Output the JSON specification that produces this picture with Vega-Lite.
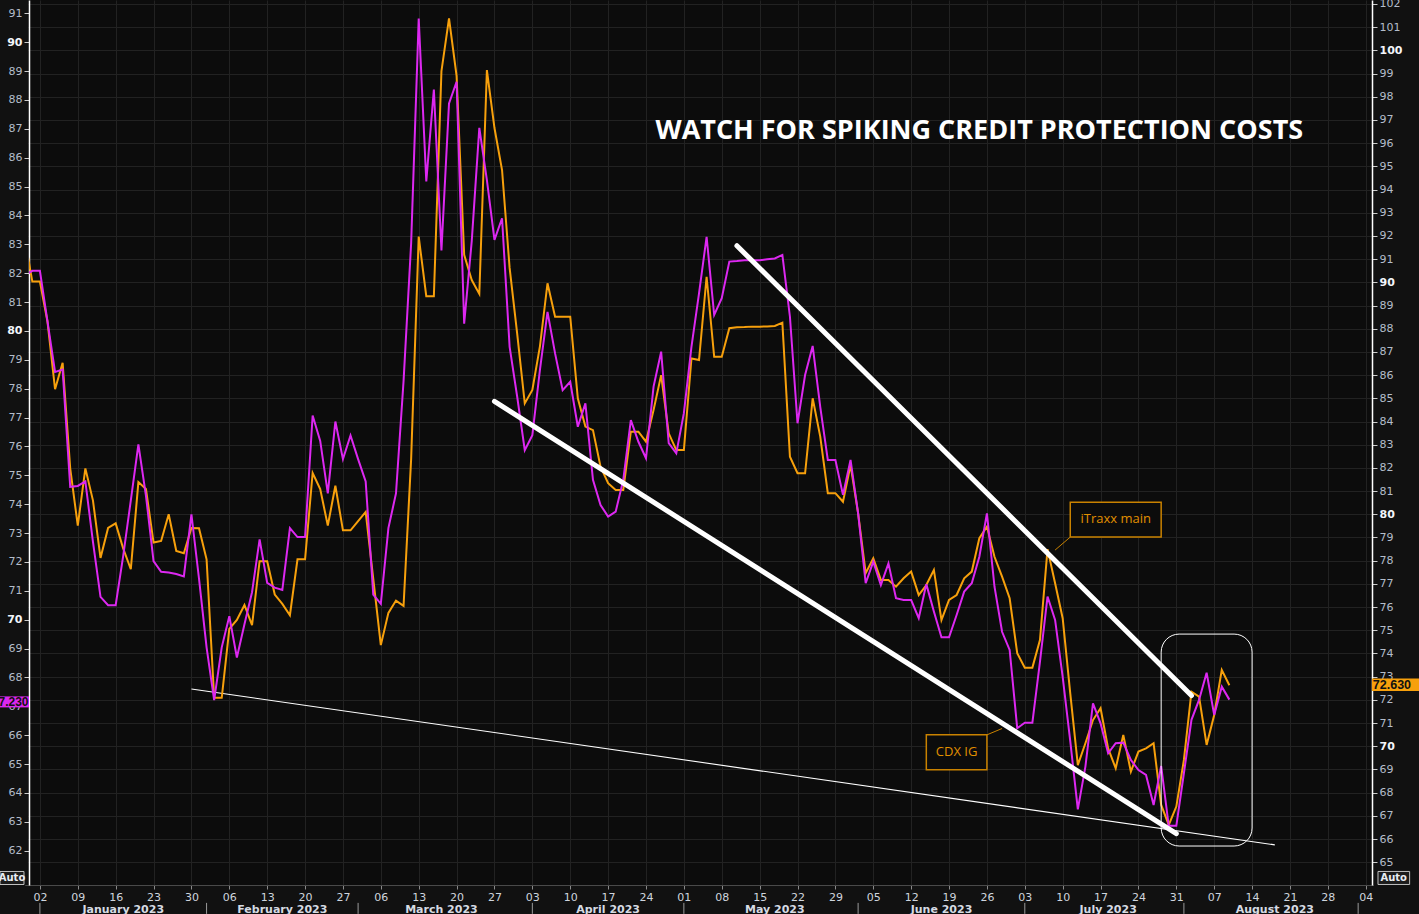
{
  "$schema": "https://vega.github.io/schema/vega-lite/v6.json",
  "width": 1343,
  "height": 885,
  "autosize": {"type": "none"},
  "padding": {"left": 29, "top": 0, "right": 47, "bottom": 29},
  "background": "#111111",
  "config": {
    "view": {"stroke": null, "fill": "#0c0c0c"},
    "axis": {"labelFont": "DejaVu Sans", "titleFont": "DejaVu Sans"}
  },
  "datasets": {
    "series": [
      {"d":"2022-12-29","cdx":81.93,"itx":91.89},
      {"d":"2022-12-30","cdx":82.08,"itx":90.03},
      {"d":"2023-01-02","cdx":82.08,"itx":90.03},
      {"d":"2023-01-03","cdx":80.33,"itx":88.31},
      {"d":"2023-01-04","cdx":78.58,"itx":85.39},
      {"d":"2023-01-05","cdx":78.66,"itx":86.53},
      {"d":"2023-01-06","cdx":74.6,"itx":81.98},
      {"d":"2023-01-09","cdx":74.63,"itx":79.51},
      {"d":"2023-01-10","cdx":74.79,"itx":81.98},
      {"d":"2023-01-11","cdx":72.7,"itx":80.6},
      {"d":"2023-01-12","cdx":70.79,"itx":78.12},
      {"d":"2023-01-13","cdx":70.5,"itx":79.41},
      {"d":"2023-01-16","cdx":70.5,"itx":79.61},
      {"d":"2023-01-17","cdx":72.22,"itx":78.52},
      {"d":"2023-01-18","cdx":74.13,"itx":77.63},
      {"d":"2023-01-19","cdx":76.07,"itx":81.39},
      {"d":"2023-01-20","cdx":74.29,"itx":81.09},
      {"d":"2023-01-23","cdx":72.03,"itx":78.78},
      {"d":"2023-01-24","cdx":71.66,"itx":78.85},
      {"d":"2023-01-25","cdx":71.63,"itx":80.0},
      {"d":"2023-01-26","cdx":71.58,"itx":78.42},
      {"d":"2023-01-27","cdx":71.5,"itx":78.32},
      {"d":"2023-01-30","cdx":73.65,"itx":79.41},
      {"d":"2023-01-31","cdx":71.42,"itx":79.4},
      {"d":"2023-02-01","cdx":69.04,"itx":78.06},
      {"d":"2023-02-02","cdx":67.21,"itx":72.09},
      {"d":"2023-02-03","cdx":69.04,"itx":72.09},
      {"d":"2023-02-06","cdx":70.12,"itx":75.06},
      {"d":"2023-02-07","cdx":68.69,"itx":75.45},
      {"d":"2023-02-08","cdx":69.84,"itx":76.09},
      {"d":"2023-02-09","cdx":70.95,"itx":75.22},
      {"d":"2023-02-10","cdx":72.78,"itx":77.98},
      {"d":"2023-02-13","cdx":71.27,"itx":77.98},
      {"d":"2023-02-14","cdx":71.11,"itx":76.54},
      {"d":"2023-02-15","cdx":71.03,"itx":76.14},
      {"d":"2023-02-16","cdx":73.17,"itx":75.65},
      {"d":"2023-02-17","cdx":72.86,"itx":78.06},
      {"d":"2023-02-20","cdx":72.86,"itx":78.06},
      {"d":"2023-02-21","cdx":77.07,"itx":81.78},
      {"d":"2023-02-22","cdx":76.19,"itx":81.09},
      {"d":"2023-02-23","cdx":74.37,"itx":79.51},
      {"d":"2023-02-24","cdx":76.86,"itx":81.23},
      {"d":"2023-02-27","cdx":75.56,"itx":79.31},
      {"d":"2023-02-28","cdx":76.38,"itx":79.31},
      {"d":"2023-03-01","cdx":75.56,"itx":79.71},
      {"d":"2023-03-02","cdx":74.79,"itx":80.1},
      {"d":"2023-03-03","cdx":70.87,"itx":77.23},
      {"d":"2023-03-06","cdx":70.55,"itx":74.36},
      {"d":"2023-03-07","cdx":73.17,"itx":75.75},
      {"d":"2023-03-08","cdx":74.37,"itx":76.28},
      {"d":"2023-03-09","cdx":78.26,"itx":76.05},
      {"d":"2023-03-10","cdx":83.03,"itx":82.38},
      {"d":"2023-03-13","cdx":90.82,"itx":91.97},
      {"d":"2023-03-14","cdx":85.18,"itx":89.4},
      {"d":"2023-03-15","cdx":88.36,"itx":89.4},
      {"d":"2023-03-16","cdx":82.79,"itx":99.1},
      {"d":"2023-03-17","cdx":87.88,"itx":101.38},
      {"d":"2023-03-20","cdx":88.63,"itx":98.9},
      {"d":"2023-03-21","cdx":80.25,"itx":91.19},
      {"d":"2023-03-22","cdx":83.11,"itx":90.1},
      {"d":"2023-03-23","cdx":87.03,"itx":89.5},
      {"d":"2023-03-24","cdx":85.22,"itx":99.15},
      {"d":"2023-03-27","cdx":83.15,"itx":96.65},
      {"d":"2023-03-28","cdx":83.9,"itx":94.84},
      {"d":"2023-03-29","cdx":79.45,"itx":90.62},
      {"d":"2023-03-30","cdx":77.72,"itx":87.78},
      {"d":"2023-03-31","cdx":75.87,"itx":84.78},
      {"d":"2023-04-03","cdx":76.39,"itx":85.36},
      {"d":"2023-04-04","cdx":78.65,"itx":87.24},
      {"d":"2023-04-05","cdx":80.66,"itx":89.96},
      {"d":"2023-04-06","cdx":79.22,"itx":88.52},
      {"d":"2023-04-07","cdx":77.95,"itx":88.52},
      {"d":"2023-04-10","cdx":78.24,"itx":88.52},
      {"d":"2023-04-11","cdx":76.68,"itx":85.0},
      {"d":"2023-04-12","cdx":77.49,"itx":83.78},
      {"d":"2023-04-13","cdx":74.84,"itx":83.63},
      {"d":"2023-04-14","cdx":73.97,"itx":82.05},
      {"d":"2023-04-17","cdx":73.57,"itx":81.34},
      {"d":"2023-04-18","cdx":73.74,"itx":81.05},
      {"d":"2023-04-19","cdx":74.84,"itx":81.05},
      {"d":"2023-04-20","cdx":76.91,"itx":83.56},
      {"d":"2023-04-21","cdx":76.16,"itx":83.56},
      {"d":"2023-04-24","cdx":75.59,"itx":83.13},
      {"d":"2023-04-25","cdx":78.07,"itx":84.5},
      {"d":"2023-04-26","cdx":79.28,"itx":86.0},
      {"d":"2023-04-27","cdx":76.11,"itx":83.49},
      {"d":"2023-04-28","cdx":75.76,"itx":82.77},
      {"d":"2023-05-01","cdx":77.15,"itx":82.77},
      {"d":"2023-05-02","cdx":79.45,"itx":86.72},
      {"d":"2023-05-03","cdx":81.3,"itx":86.65},
      {"d":"2023-05-04","cdx":83.26,"itx":90.24},
      {"d":"2023-05-05","cdx":80.55,"itx":86.79},
      {"d":"2023-05-08","cdx":81.13,"itx":86.79},
      {"d":"2023-05-09","cdx":82.4,"itx":88.02},
      {"d":"2023-05-10","cdx":82.42,"itx":88.06},
      {"d":"2023-05-11","cdx":82.45,"itx":88.07},
      {"d":"2023-05-12","cdx":82.45,"itx":88.09},
      {"d":"2023-05-15","cdx":82.45,"itx":88.09},
      {"d":"2023-05-16","cdx":82.48,"itx":88.1},
      {"d":"2023-05-17","cdx":82.51,"itx":88.12},
      {"d":"2023-05-18","cdx":82.63,"itx":88.26},
      {"d":"2023-05-19","cdx":80.49,"itx":82.48},
      {"d":"2023-05-22","cdx":76.8,"itx":81.77},
      {"d":"2023-05-23","cdx":78.47,"itx":81.77},
      {"d":"2023-05-24","cdx":79.48,"itx":85.0},
      {"d":"2023-05-25","cdx":77.37,"itx":83.35},
      {"d":"2023-05-26","cdx":75.53,"itx":80.91},
      {"d":"2023-05-29","cdx":75.53,"itx":80.91},
      {"d":"2023-05-30","cdx":74.32,"itx":80.54},
      {"d":"2023-05-31","cdx":75.53,"itx":82.12},
      {"d":"2023-06-01","cdx":73.68,"itx":80.04},
      {"d":"2023-06-02","cdx":71.26,"itx":77.46},
      {"d":"2023-06-05","cdx":72.01,"itx":78.1},
      {"d":"2023-06-06","cdx":71.2,"itx":77.17},
      {"d":"2023-06-07","cdx":71.95,"itx":77.17},
      {"d":"2023-06-08","cdx":70.74,"itx":76.88},
      {"d":"2023-06-09","cdx":70.68,"itx":77.24},
      {"d":"2023-06-12","cdx":70.68,"itx":77.53},
      {"d":"2023-06-13","cdx":70.05,"itx":76.52},
      {"d":"2023-06-14","cdx":71.23,"itx":76.95},
      {"d":"2023-06-15","cdx":70.28,"itx":77.6},
      {"d":"2023-06-16","cdx":69.39,"itx":75.44},
      {"d":"2023-06-19","cdx":69.39,"itx":76.31},
      {"d":"2023-06-20","cdx":70.16,"itx":76.52},
      {"d":"2023-06-21","cdx":70.97,"itx":77.24},
      {"d":"2023-06-22","cdx":71.26,"itx":77.53},
      {"d":"2023-06-23","cdx":72.18,"itx":78.97},
      {"d":"2023-06-26","cdx":73.68,"itx":79.47},
      {"d":"2023-06-27","cdx":71.14,"itx":78.17},
      {"d":"2023-06-28","cdx":69.58,"itx":77.31},
      {"d":"2023-06-29","cdx":68.95,"itx":76.38},
      {"d":"2023-06-30","cdx":66.24,"itx":74.01},
      {"d":"2023-07-03","cdx":66.43,"itx":73.39},
      {"d":"2023-07-04","cdx":66.43,"itx":73.39},
      {"d":"2023-07-05","cdx":68.54,"itx":74.58},
      {"d":"2023-07-06","cdx":70.8,"itx":78.5},
      {"d":"2023-07-07","cdx":69.99,"itx":77.03},
      {"d":"2023-07-10","cdx":68.02,"itx":75.52},
      {"d":"2023-07-11","cdx":65.79,"itx":72.28},
      {"d":"2023-07-12","cdx":63.43,"itx":69.19},
      {"d":"2023-07-13","cdx":64.91,"itx":70.13},
      {"d":"2023-07-14","cdx":67.1,"itx":71.13},
      {"d":"2023-07-17","cdx":66.41,"itx":71.64},
      {"d":"2023-07-18","cdx":65.37,"itx":69.91},
      {"d":"2023-07-19","cdx":65.72,"itx":69.05},
      {"d":"2023-07-20","cdx":65.74,"itx":70.49},
      {"d":"2023-07-21","cdx":65.14,"itx":68.91},
      {"d":"2023-07-24","cdx":64.79,"itx":69.77},
      {"d":"2023-07-25","cdx":64.62,"itx":69.91},
      {"d":"2023-07-26","cdx":63.58,"itx":70.13},
      {"d":"2023-07-27","cdx":64.93,"itx":67.47},
      {"d":"2023-07-28","cdx":62.86,"itx":66.61},
      {"d":"2023-07-31","cdx":62.86,"itx":67.4},
      {"d":"2023-08-01","cdx":64.68,"itx":69.41},
      {"d":"2023-08-02","cdx":66.53,"itx":72.35},
      {"d":"2023-08-03","cdx":67.22,"itx":72.14},
      {"d":"2023-08-04","cdx":68.16,"itx":70.06},
      {"d":"2023-08-07","cdx":66.7,"itx":71.35},
      {"d":"2023-08-08","cdx":67.68,"itx":73.29},
      {"d":"2023-08-09","cdx":67.23,"itx":72.63}
    ],
    "thickLines": [
      {"d":"2023-05-10","d2":"2023-08-02","v":82.95,"v2":67.37},
      {"d":"2023-03-27","d2":"2023-07-31","v":77.56,"v2":62.59}
    ],
    "thinLine": [
      {"d":"2023-01-30","d2":"2023-08-17","v":67.6,"v2":62.2}
    ],
    "roundBox": [
      {"d":"2023-07-27","d2":"2023-08-14","v":69.5,"v2":62.16}
    ],
    "boxes": [
      {"d":"2023-07-11","d2":"2023-07-27","v":74.07,"v2":72.86},
      {"d":"2023-06-14","d2":"2023-06-26","v":66.01,"v2":64.8}
    ],
    "leaders": [
      {"d":"2023-07-11","d2":"2023-07-07","v":72.86,"v2":72.41},
      {"d":"2023-06-26","d2":"2023-06-28","v":66.01,"v2":66.23}
    ],
    "boxLabels": [
      {"d":"2023-07-19","v":73.49,"t":"iTraxx main"},
      {"d":"2023-06-20","v":65.42,"t":"CDX IG"}
    ],
    "title": [
      {"d":"2023-06-23","v":86.92,"t":"WATCH FOR SPIKING CREDIT PROTECTION COSTS"}
    ],
    "months": [
      {"d":"2023-01-17","v":60.155,"t":"January 2023"},
      {"d":"2023-02-15","v":60.155,"t":"February 2023"},
      {"d":"2023-03-16","v":60.155,"t":"March 2023"},
      {"d":"2023-04-17","v":60.155,"t":"April 2023"},
      {"d":"2023-05-17","v":60.155,"t":"May 2023"},
      {"d":"2023-06-16","v":60.155,"t":"June 2023"},
      {"d":"2023-07-18","v":60.155,"t":"July 2023"},
      {"d":"2023-08-17","v":60.155,"t":"August 2023"}
    ],
    "seps": [
      {"d":"2023-01-02","v":60.19,"v2":59.81},
      {"d":"2023-02-01","v":60.19,"v2":59.81},
      {"d":"2023-03-01","v":60.19,"v2":59.81},
      {"d":"2023-04-03","v":60.19,"v2":59.81},
      {"d":"2023-05-01","v":60.19,"v2":59.81},
      {"d":"2023-06-01","v":60.19,"v2":59.81},
      {"d":"2023-07-03","v":60.19,"v2":59.81},
      {"d":"2023-08-01","v":60.19,"v2":59.81},
      {"d":"2023-09-01","v":60.19,"v2":59.81}
    ],
    "leftTag": [{"d":"2022-12-29","v":67.23,"t":"67.230"}],
    "rightTag": [{"d":"2023-09-05","v":72.63,"t":"72.630"}],
    "leftAuto": [{"d":"2022-12-29","v":61.05,"t":"Auto"}],
    "rightAuto": [{"d":"2023-09-05","v":64.32,"t":"Auto"}]
  },
  "encoding": {
    "x": {
      "field": "d",
      "type": "ordinal",
      "scale": {
        "type": "point",
        "padding": 0,
        "range": [-4.25, 1344.3],
        "domain": ["2022-12-29","2022-12-30",
          "2023-01-02","2023-01-03","2023-01-04","2023-01-05","2023-01-06","2023-01-09","2023-01-10","2023-01-11","2023-01-12","2023-01-13","2023-01-16","2023-01-17","2023-01-18","2023-01-19","2023-01-20","2023-01-23","2023-01-24","2023-01-25","2023-01-26","2023-01-27","2023-01-30","2023-01-31",
          "2023-02-01","2023-02-02","2023-02-03","2023-02-06","2023-02-07","2023-02-08","2023-02-09","2023-02-10","2023-02-13","2023-02-14","2023-02-15","2023-02-16","2023-02-17","2023-02-20","2023-02-21","2023-02-22","2023-02-23","2023-02-24","2023-02-27","2023-02-28",
          "2023-03-01","2023-03-02","2023-03-03","2023-03-06","2023-03-07","2023-03-08","2023-03-09","2023-03-10","2023-03-13","2023-03-14","2023-03-15","2023-03-16","2023-03-17","2023-03-20","2023-03-21","2023-03-22","2023-03-23","2023-03-24","2023-03-27","2023-03-28","2023-03-29","2023-03-30","2023-03-31",
          "2023-04-03","2023-04-04","2023-04-05","2023-04-06","2023-04-07","2023-04-10","2023-04-11","2023-04-12","2023-04-13","2023-04-14","2023-04-17","2023-04-18","2023-04-19","2023-04-20","2023-04-21","2023-04-24","2023-04-25","2023-04-26","2023-04-27","2023-04-28",
          "2023-05-01","2023-05-02","2023-05-03","2023-05-04","2023-05-05","2023-05-08","2023-05-09","2023-05-10","2023-05-11","2023-05-12","2023-05-15","2023-05-16","2023-05-17","2023-05-18","2023-05-19","2023-05-22","2023-05-23","2023-05-24","2023-05-25","2023-05-26","2023-05-29","2023-05-30","2023-05-31",
          "2023-06-01","2023-06-02","2023-06-05","2023-06-06","2023-06-07","2023-06-08","2023-06-09","2023-06-12","2023-06-13","2023-06-14","2023-06-15","2023-06-16","2023-06-19","2023-06-20","2023-06-21","2023-06-22","2023-06-23","2023-06-26","2023-06-27","2023-06-28","2023-06-29","2023-06-30",
          "2023-07-03","2023-07-04","2023-07-05","2023-07-06","2023-07-07","2023-07-10","2023-07-11","2023-07-12","2023-07-13","2023-07-14","2023-07-17","2023-07-18","2023-07-19","2023-07-20","2023-07-21","2023-07-24","2023-07-25","2023-07-26","2023-07-27","2023-07-28","2023-07-31",
          "2023-08-01","2023-08-02","2023-08-03","2023-08-04","2023-08-07","2023-08-08","2023-08-09","2023-08-10","2023-08-11","2023-08-14","2023-08-15","2023-08-16","2023-08-17","2023-08-18","2023-08-21","2023-08-22","2023-08-23","2023-08-24","2023-08-25","2023-08-28","2023-08-29","2023-08-30","2023-08-31",
          "2023-09-01","2023-09-04","2023-09-05"]
      },
      "axis": {
        "title": null,
        "orient": "bottom",
        "values": ["2023-01-02","2023-01-09","2023-01-16","2023-01-23","2023-01-30","2023-02-06","2023-02-13","2023-02-20","2023-02-27","2023-03-06","2023-03-13","2023-03-20","2023-03-27","2023-04-03","2023-04-10","2023-04-17","2023-04-24","2023-05-01","2023-05-08","2023-05-15","2023-05-22","2023-05-29","2023-06-05","2023-06-12","2023-06-19","2023-06-26","2023-07-03","2023-07-10","2023-07-17","2023-07-24","2023-07-31","2023-08-07","2023-08-14","2023-08-21","2023-08-28","2023-09-04"],
        "labelExpr": "substring(datum.value, 8, 10)",
        "labelAngle": 0,
        "labelOverlap": false,
        "labelFontSize": 11,
        "labelColor": "#cfd5de",
        "labelPadding": 2,
        "tickSize": 4,
        "tickColor": "#8a8a8a",
        "domainColor": "#4a4a4a",
        "grid": true,
        "gridColor": "#222222",
        "gridWidth": 1
      }
    }
  },
  "layer": [
    {
      "data": {"name": "thinLine"},
      "mark": {"type": "rule", "color": "#ffffff", "strokeWidth": 1.1},
      "encoding": {
        "x2": {"field": "d2"},
        "y": {"field": "v", "type": "quantitative", "scale": {"domain": [60.81, 91.46], "nice": false, "zero": false}, "axis": null},
        "y2": {"field": "v2"}
      }
    },
    {
      "data": {"name": "series"},
      "mark": {"type": "line", "color": "#f7a00c", "strokeWidth": 2, "clip": true},
      "encoding": {
        "y": {
          "field": "itx", "type": "quantitative",
          "scale": {"domain": [64.02, 102.17], "nice": false, "zero": false},
          "axis": {
            "title": null, "orient": "right",
            "values": [65,66,67,68,69,70,71,72,73,74,75,76,77,78,79,80,81,82,83,84,85,86,87,88,89,90,91,92,93,94,95,96,97,98,99,100,101,102],
            "labelFontSize": 11,
            "labelColor": {"condition": {"test": "datum.value % 10 === 0", "value": "#f2f5fa"}, "value": "#b4bdca"},
            "labelFontWeight": {"condition": {"test": "datum.value % 10 === 0", "value": "bold"}, "value": "normal"},
            "labelPadding": 2,
            "tickSize": 5,
            "tickColor": "#cccccc",
            "domainColor": "#ffffff",
            "domainWidth": 1.5,
            "grid": true,
            "gridColor": "#222222"
          }
        }
      }
    },
    {
      "data": {"name": "series"},
      "mark": {"type": "line", "color": "#dc28f0", "strokeWidth": 2, "clip": true},
      "encoding": {
        "y": {
          "field": "cdx", "type": "quantitative",
          "scale": {"domain": [60.81, 91.46], "nice": false, "zero": false},
          "axis": {
            "title": null, "orient": "left",
            "values": [62,63,64,65,66,67,68,69,70,71,72,73,74,75,76,77,78,79,80,81,82,83,84,85,86,87,88,89,90,91],
            "labelFontSize": 11,
            "labelColor": {"condition": {"test": "datum.value % 10 === 0", "value": "#f2f5fa"}, "value": "#b4bdca"},
            "labelFontWeight": {"condition": {"test": "datum.value % 10 === 0", "value": "bold"}, "value": "normal"},
            "labelPadding": 2,
            "tickSize": 5,
            "tickColor": "#cccccc",
            "domainColor": "#ffffff",
            "domainWidth": 1.5,
            "grid": false
          }
        }
      }
    },
    {
      "data": {"name": "thickLines"},
      "mark": {"type": "rule", "color": "#ffffff", "strokeWidth": 5, "strokeCap": "round"},
      "encoding": {
        "x2": {"field": "d2"},
        "y": {"field": "v", "type": "quantitative", "scale": {"domain": [60.81, 91.46], "nice": false, "zero": false}, "axis": null},
        "y2": {"field": "v2"}
      }
    },
    {
      "data": {"name": "roundBox"},
      "mark": {"type": "rect", "fill": null, "fillOpacity": 0, "stroke": "#ffffff", "strokeWidth": 1, "cornerRadius": 18},
      "encoding": {
        "x2": {"field": "d2"},
        "y": {"field": "v", "type": "quantitative", "scale": {"domain": [60.81, 91.46], "nice": false, "zero": false}, "axis": null},
        "y2": {"field": "v2"}
      }
    },
    {
      "data": {"name": "leaders"},
      "mark": {"type": "rule", "color": "#c98200", "strokeWidth": 1},
      "encoding": {
        "x2": {"field": "d2"},
        "y": {"field": "v", "type": "quantitative", "scale": {"domain": [60.81, 91.46], "nice": false, "zero": false}, "axis": null},
        "y2": {"field": "v2"}
      }
    },
    {
      "data": {"name": "boxes"},
      "mark": {"type": "rect", "fill": "#0c0c0c", "stroke": "#c98200", "strokeWidth": 1.5},
      "encoding": {
        "x2": {"field": "d2"},
        "y": {"field": "v", "type": "quantitative", "scale": {"domain": [60.81, 91.46], "nice": false, "zero": false}, "axis": null},
        "y2": {"field": "v2"}
      }
    },
    {
      "data": {"name": "boxLabels"},
      "mark": {"type": "text", "font": "Open Sans", "fontSize": 13, "color": "#e08f00", "align": "center", "baseline": "middle"},
      "encoding": {
        "y": {"field": "v", "type": "quantitative", "scale": {"domain": [60.81, 91.46], "nice": false, "zero": false}, "axis": null},
        "text": {"field": "t"}
      }
    },
    {
      "data": {"name": "title"},
      "mark": {"type": "text", "font": "Open Sans", "fontSize": 27, "fontWeight": "bold", "color": "#ffffff", "align": "center", "baseline": "middle"},
      "encoding": {
        "y": {"field": "v", "type": "quantitative", "scale": {"domain": [60.81, 91.46], "nice": false, "zero": false}, "axis": null},
        "text": {"field": "t"}
      }
    },
    {
      "data": {"name": "months"},
      "mark": {"type": "text", "font": "DejaVu Sans", "fontSize": 11, "fontWeight": "bold", "color": "#d6dbe3", "align": "center", "baseline": "top"},
      "encoding": {
        "y": {"field": "v", "type": "quantitative", "scale": {"domain": [60.81, 91.46], "nice": false, "zero": false}, "axis": null},
        "text": {"field": "t"}
      }
    },
    {
      "data": {"name": "seps"},
      "mark": {"type": "rule", "color": "#9a9a9a", "strokeWidth": 1},
      "encoding": {
        "y": {"field": "v", "type": "quantitative", "scale": {"domain": [60.81, 91.46], "nice": false, "zero": false}, "axis": null},
        "y2": {"field": "v2"}
      }
    },
    {
      "data": {"name": "leftTag"},
      "mark": {"type": "point", "shape": "M-3.54,-0.46H0.61V1.11H-3.54Z", "size": 196, "filled": true, "fill": "#dc28f0", "opacity": 1, "strokeWidth": 0},
      "encoding": {
        "y": {"field": "v", "type": "quantitative", "scale": {"domain": [60.81, 91.46], "nice": false, "zero": false}, "axis": null}
      }
    },
    {
      "data": {"name": "leftTag"},
      "mark": {"type": "text", "font": "Liberation Sans", "fontSize": 12, "fontWeight": "bold", "color": "#111111", "align": "right", "baseline": "middle", "dx": 3.75, "dy": 2.3},
      "encoding": {
        "y": {"field": "v", "type": "quantitative", "scale": {"domain": [60.81, 91.46], "nice": false, "zero": false}, "axis": null},
        "text": {"field": "t"}
      }
    },
    {
      "data": {"name": "rightTag"},
      "mark": {"type": "point", "shape": "M-0.19,-0.97H6.53V0.81H-0.19Z", "size": 196, "filled": true, "fill": "#f7a00c", "opacity": 1, "strokeWidth": 0},
      "encoding": {
        "y": {"field": "v", "type": "quantitative", "scale": {"domain": [64.02, 102.17], "nice": false, "zero": false}, "axis": null}
      }
    },
    {
      "data": {"name": "rightTag"},
      "mark": {"type": "text", "font": "Liberation Sans", "fontSize": 12.5, "fontWeight": "bold", "color": "#111111", "align": "left", "baseline": "middle", "dx": -0.5, "dy": -0.5},
      "encoding": {
        "y": {"field": "v", "type": "quantitative", "scale": {"domain": [64.02, 102.17], "nice": false, "zero": false}, "axis": null},
        "text": {"field": "t"}
      }
    },
    {
      "data": {"name": "leftAuto"},
      "mark": {"type": "point", "shape": "M-3.54,-0.94H-0.11V0.92H-3.54Z", "size": 196, "filled": true, "fill": "#1c1c1c", "stroke": "#c0c0c0", "strokeWidth": 1, "opacity": 1},
      "encoding": {
        "y": {"field": "v", "type": "quantitative", "scale": {"domain": [60.81, 91.46], "nice": false, "zero": false}, "axis": null}
      }
    },
    {
      "data": {"name": "leftAuto"},
      "mark": {"type": "text", "font": "DejaVu Sans", "fontSize": 10, "fontWeight": "bold", "color": "#e8ecf2", "align": "center", "baseline": "middle", "dx": -12.75},
      "encoding": {
        "y": {"field": "v", "type": "quantitative", "scale": {"domain": [60.81, 91.46], "nice": false, "zero": false}, "axis": null},
        "text": {"field": "t"}
      }
    },
    {
      "data": {"name": "rightAuto"},
      "mark": {"type": "point", "shape": "M0.67,-0.94H5.19V0.92H0.67Z", "size": 196, "filled": true, "fill": "#1c1c1c", "stroke": "#c0c0c0", "strokeWidth": 1, "opacity": 1},
      "encoding": {
        "y": {"field": "v", "type": "quantitative", "scale": {"domain": [64.02, 102.17], "nice": false, "zero": false}, "axis": null}
      }
    },
    {
      "data": {"name": "rightAuto"},
      "mark": {"type": "text", "font": "DejaVu Sans", "fontSize": 10, "fontWeight": "bold", "color": "#e8ecf2", "align": "center", "baseline": "middle", "dx": 20.4},
      "encoding": {
        "y": {"field": "v", "type": "quantitative", "scale": {"domain": [64.02, 102.17], "nice": false, "zero": false}, "axis": null},
        "text": {"field": "t"}
      }
    }
  ],
  "resolve": {"scale": {"y": "independent"}}
}
